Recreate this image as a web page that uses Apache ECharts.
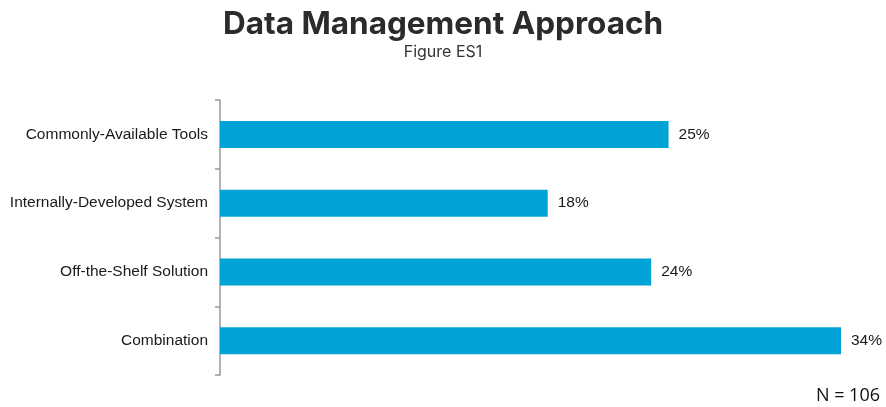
<html>
  <head>
    <meta charset="utf-8">
    <script src="https://cdn.jsdelivr.net/npm/echarts@6/dist/echarts.min.js"></script>
  </head>
  <body style="margin:0">
    <div id="main" style="width:886px;height:407px;"></div>
    <script>
      var categories = ['Commonly-Available Tools', 'Internally-Developed System', 'Off-the-Shelf Solution', 'Combination'];
      var values = [24.53, 17.92, 23.58, 33.96];
      var valueLabels = ['25%', '18%', '24%', '34%'];

      var myChart = echarts.init(document.getElementById('main'));
      var option = {
          title: {
              text: 'Data Management Approach',
              subtext: 'Figure ES1',
              left: 'center',
              top: 4,
              itemGap: 3,
              textStyle: { fontFamily: 'Inter', fontWeight: 'bold', fontSize: 31.5, color: '#2b2b2b' },
              subtextStyle: { fontFamily: 'Inter', fontSize: 16, color: '#333' }
          },
          grid: { left: 220, right: 26, top: 100, bottom: 32 },
          xAxis: { type: 'value', min: 0, max: 35, show: false },
          yAxis: {
              type: 'category',
              data: categories,
              inverse: true,
              axisLine: { lineStyle: { color: '#999', width: 1.5 } },
              axisTick: { show: true, length: 5, lineStyle: { color: '#999', width: 1.5 } },
              axisLabel: { fontFamily: 'Liberation Sans', fontSize: 15.5, color: '#1a1a1a', margin: 12 }
          },
          series: [{
              type: 'bar',
              data: values,
              barWidth: 27,
              itemStyle: { color: '#00A3D6' },
              label: {
                  show: true,
                  position: 'right',
                  distance: 10,
                  fontFamily: 'Liberation Sans',
                  fontSize: 15.5,
                  color: '#1a1a1a',
                  formatter: function (p) { return valueLabels[p.dataIndex]; }
              }
          }],
          graphic: [{
              type: 'text',
              right: 6,
              top: 387,
              style: { text: 'N = 106', font: '18px "Open Sans"', fill: '#111' }
          }]
      };
      myChart.setOption(option);
    </script>
  </body>
</html>
